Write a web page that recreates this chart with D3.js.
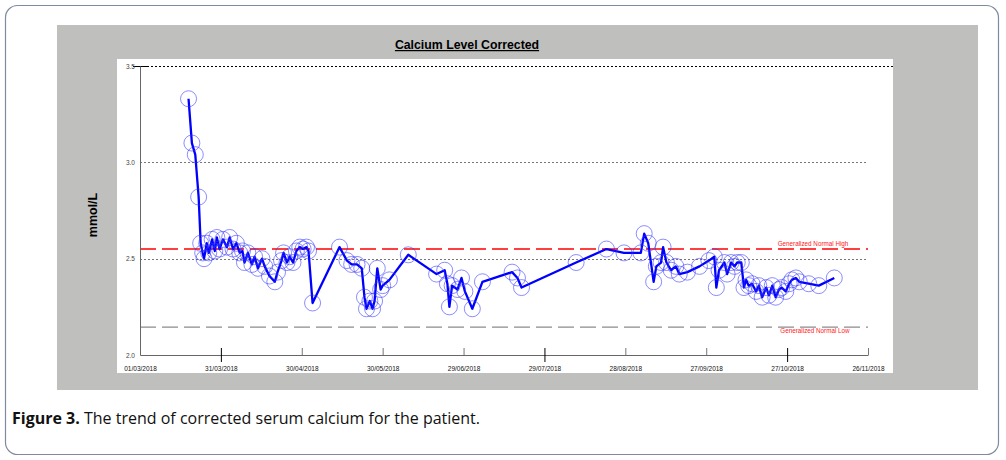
<!DOCTYPE html>
<html>
<head>
<meta charset="utf-8">
<script src="https://cdn.jsdelivr.net/npm/d3@7"></script>
<style>
html,body{margin:0;padding:0;background:#fff;}
svg{display:block;}
</style>
</head>
<body>
<svg id="chart" width="1006" height="460"></svg>
<script>
const chartTitle = "Calcium Level Corrected";
const yAxisTitle = "mmol/L";
const caption = ["Figure 3.", " The trend of corrected serum calcium for the patient."];
const yTicks = [2.0, 2.5, 3.0, 3.5];
const xTickLabels = ["01/03/2018","31/03/2018","30/04/2018","30/05/2018","29/06/2018","29/07/2018","28/08/2018","27/09/2018","27/10/2018","26/11/2018"];
const normalHigh = 2.55, normalLow = 2.15;
const normalHighLabel = "Generalized Normal High";
const normalLowLabel = "Generalized Normal Low";

const dates = [
"2018-03-19T00","2018-03-20T06","2018-03-21T12","2018-03-22T18","2018-03-23T12","2018-03-24T06","2018-03-24T18",
"2018-03-25T18","2018-03-26T12","2018-03-27T18","2018-03-28T18","2018-03-29T12","2018-03-30T12","2018-03-31T18",
"2018-04-02T06","2018-04-03T06","2018-04-04T12","2018-04-05T18","2018-04-07T00","2018-04-08T00","2018-04-08T18",
"2018-04-10T00","2018-04-11T12","2018-04-12T12","2018-04-13T18","2018-04-15T06","2018-04-16T06","2018-04-18T00",
"2018-04-20T00","2018-04-21T00","2018-04-22T12","2018-04-23T06","2018-04-24T12","2018-04-25T12","2018-04-26T18",
"2018-04-28T00","2018-04-29T06","2018-04-30T12","2018-05-01T18","2018-05-02T12","2018-05-04T00",
"2018-05-14T00","2018-05-16T18","2018-05-18T12","2018-05-20T12","2018-05-22T06","2018-05-23T06","2018-05-24T00",
"2018-05-25T06","2018-05-26T06","2018-05-27T00","2018-05-28T00","2018-05-29T06","2018-05-30T00","2018-06-01T12",
"2018-06-08T12","2018-06-19T00","2018-06-22T00","2018-06-23T00","2018-06-23T18","2018-06-24T18","2018-06-26T18",
"2018-06-28T06","2018-06-29T12","2018-07-02T06","2018-07-06T00","2018-07-17T00","2018-07-19T00","2018-07-20T12",
"2018-08-09T18","2018-08-21T00","2018-08-27T12","2018-09-02T18","2018-09-04T00","2018-09-05T12","2018-09-07T12",
"2018-09-08T12","2018-09-10T06","2018-09-11T00","2018-09-12T06","2018-09-14T00","2018-09-15T18","2018-09-17T00",
"2018-09-20T00","2018-09-24T12","2018-09-28T00","2018-09-30T00","2018-09-30T18","2018-10-01T18","2018-10-03T18",
"2018-10-04T18","2018-10-06T06","2018-10-07T12","2018-10-08T12","2018-10-10T00","2018-10-11T00","2018-10-11T18",
"2018-10-12T18","2018-10-14T00","2018-10-15T12","2018-10-16T12","2018-10-17T18","2018-10-19T06","2018-10-20T06",
"2018-10-21T12","2018-10-22T18","2018-10-24T00","2018-10-25T00","2018-10-26T12","2018-10-27T18","2018-10-28T18",
"2018-10-30T06","2018-10-31T12","2018-11-04T00","2018-11-07T18","2018-11-13T12"
];
const calcium = [
3.33,3.10,3.04,2.82,2.58,2.53,2.50,
2.58,2.53,2.60,2.54,2.61,2.55,2.60,
2.56,2.61,2.55,2.58,2.53,2.54,2.48,
2.53,2.47,2.51,2.45,2.50,2.46,2.41,
2.38,2.43,2.49,2.53,2.48,2.51,2.48,
2.54,2.56,2.55,2.56,2.54,2.27,
2.56,2.49,2.47,2.47,2.45,2.30,2.24,
2.28,2.24,2.28,2.45,2.34,2.36,2.39,
2.52,2.42,2.44,2.37,2.25,2.36,2.34,
2.40,2.33,2.24,2.38,2.43,2.40,2.35,
2.48,2.55,2.53,2.53,2.63,2.58,2.38,
2.46,2.48,2.56,2.48,2.44,2.46,2.42,
2.43,2.46,2.49,2.51,2.35,2.44,2.48,
2.42,2.48,2.46,2.48,2.48,2.35,2.39,
2.36,2.37,2.33,2.36,2.30,2.35,2.31,
2.36,2.30,2.34,2.35,2.33,2.37,2.39,
2.40,2.38,2.37,2.36,2.40
];

const parseT = d3.timeParse("%Y-%m-%dT%H");
const parseTick = d3.timeParse("%d/%m/%Y");
const data = dates.map((d,i)=>({date:parseT(d), v:calcium[i]}));

const svg = d3.select("#chart");

// outer card
svg.append("rect").attr("x",5.5).attr("y",5.5).attr("width",993).attr("height",449)
  .attr("rx",12).attr("fill","#fff").attr("stroke","#7f8aa0").attr("stroke-width",1.2);
// gray panel
svg.append("rect").attr("x",57).attr("y",25).attr("width",921).attr("height",365).attr("fill","#bfbfbd");
// white plot
svg.append("rect").attr("x",117).attr("y",59).attr("width",776).attr("height",314).attr("fill","#fff");

const x0 = 140, x1 = 868, yTop = 66, yBot = 355;
const tickDates = xTickLabels.map(parseTick);
const x = d3.scaleTime().domain([tickDates[0], tickDates[tickDates.length-1]]).range([x0, x1]);
const y = d3.scaleLinear().domain([2.0, 3.5]).range([yBot, yTop]);

// grid lines
const g = svg.append("g");
g.selectAll(".grid").data(yTicks.filter(t=>t>2.0 && t<3.5)).join("line")
  .attr("x1",x0).attr("x2",x1).attr("y1",d=>Math.round(y(d))+0.5).attr("y2",d=>Math.round(y(d))+0.5)
  .attr("stroke","#777").attr("stroke-width",1).attr("stroke-dasharray","2,2");
// top line
g.append("line").attr("x1",147).attr("x2",893).attr("y1",Math.round(y(3.5))+0.5).attr("y2",Math.round(y(3.5))+0.5)
  .attr("stroke","#000").attr("stroke-width",1).attr("stroke-dasharray","2,2");
g.append("line").attr("x1",133).attr("x2",147).attr("y1",Math.round(y(3.5))+0.5).attr("y2",Math.round(y(3.5))+0.5)
  .attr("stroke","#000").attr("stroke-width",1);

// normal lines
g.append("line").attr("x1",x0).attr("x2",x1).attr("y1",y(normalHigh)).attr("y2",y(normalHigh))
  .attr("stroke","#ff0000").attr("stroke-width",1.5).attr("stroke-dasharray","16,6");
g.append("line").attr("x1",x0).attr("x2",x1).attr("y1",y(normalLow)+1).attr("y2",y(normalLow)+1)
  .attr("stroke","#8c8c8c").attr("stroke-width",1.2).attr("stroke-dasharray","16,6");
g.append("text").attr("x",813).attr("y",y(normalHigh)-3).attr("text-anchor","middle")
  .attr("font-family","Liberation Sans, Arial, sans-serif").attr("font-size",6.3).attr("fill","#ff2020").text(normalHighLabel);
g.append("text").attr("x",815).attr("y",y(normalLow)+6.5).attr("text-anchor","middle")
  .attr("font-family","Liberation Sans, Arial, sans-serif").attr("font-size",6.3).attr("fill","#ff2020").text(normalLowLabel);

// axes
const yAxis = d3.axisLeft(y).tickValues(yTicks).tickFormat(d3.format(".1f")).tickSize(0).tickPadding(5);
const ya = svg.append("g").attr("transform",`translate(${x0},0)`).call(yAxis);
ya.select(".domain").attr("stroke","#666");
ya.selectAll("text").attr("font-family","Liberation Sans, Arial, sans-serif").attr("font-size",6.5).attr("fill","#444");

const xAxis = d3.axisBottom(x).tickValues(tickDates).tickFormat((d,i)=>xTickLabels[i]).tickSizeInner(-7).tickSizeOuter(0).tickPadding(11);
const xa = svg.append("g").attr("transform",`translate(0,${yBot})`).call(xAxis);
xa.select(".domain").attr("stroke","#666");
xa.selectAll(".tick line").attr("stroke",(d,i)=>[1,5,8].includes(i)?"#000":"#777")
  .attr("y1",(d,i)=>[1,5,8].includes(i)?7:0);
xa.selectAll(".tick").filter((d,i)=>i===0).select("line").remove();
xa.selectAll("text").attr("font-family","Liberation Sans, Arial, sans-serif").attr("font-size",6.5).attr("fill","#111");

// series
const line = d3.line().x(d=>x(d.date)).y(d=>y(d.v));
svg.append("path").datum(data).attr("d",line).attr("fill","none")
  .attr("stroke","#0000ff").attr("stroke-width",2.3).attr("stroke-linejoin","round");
svg.append("g").selectAll("circle").data(data).join("circle")
  .attr("cx",d=>x(d.date)).attr("cy",d=>y(d.v)).attr("r",8)
  .attr("fill","none").attr("stroke","#3333ff").attr("stroke-opacity",0.7).attr("stroke-width",0.8);

// title
svg.append("text").attr("x",467).attr("y",49).attr("text-anchor","middle")
  .attr("font-family","Liberation Sans, Arial, sans-serif").attr("font-weight","bold").attr("font-size",12.3)
  .attr("text-decoration","underline").attr("fill","#000").text(chartTitle);
svg.append("text").attr("transform","translate(97,215) rotate(-90)").attr("text-anchor","middle")
  .attr("font-family","Liberation Sans, Arial, sans-serif").attr("font-weight","bold").attr("font-size",12.5)
  .attr("fill","#000").text(yAxisTitle);

// caption
const cap = svg.append("text").attr("x",12).attr("y",424)
  .attr("font-family","Open Sans, sans-serif").attr("font-size",16).attr("fill","#111");
cap.append("tspan").attr("font-weight","bold").text(caption[0]);
cap.append("tspan").text(caption[1]);
</script>
</body>
</html>
